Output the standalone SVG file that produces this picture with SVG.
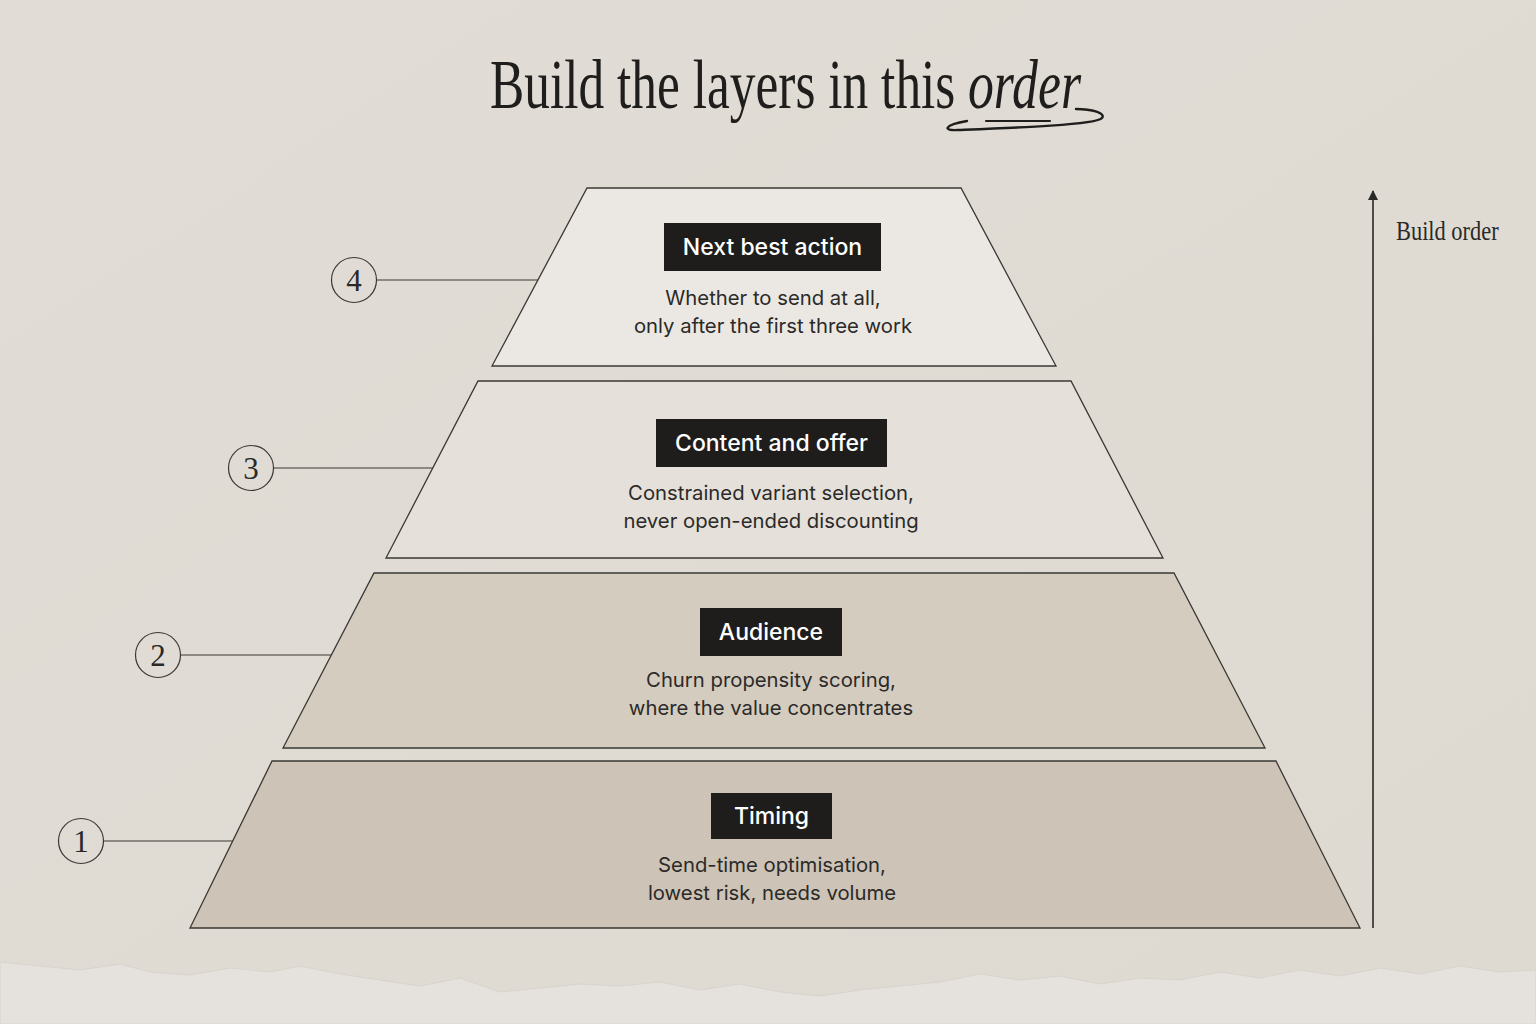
<svg xmlns="http://www.w3.org/2000/svg" width="1536" height="1024" viewBox="0 0 1536 1024">
<defs>
<style>
.layer{stroke:#3a3834;stroke-width:1.3;stroke-linejoin:miter}
.box{fill:#1e1d1c}
.lbl{font-family:Inter,"Liberation Sans",sans-serif;font-size:23px;font-weight:500;fill:#ffffff;text-anchor:middle}
.sub{font-family:Inter,"Liberation Sans",sans-serif;font-size:20.3px;fill:#2b2a28;text-anchor:middle}
.num{font-family:"Liberation Serif",serif;font-size:31px;fill:#2a2927;text-anchor:middle}
.ring{fill:none;stroke:#3a3834;stroke-width:1.2}
.conn{stroke:#3a3834;stroke-width:1.2;fill:none}
.ttl{font-family:"Liberation Serif",serif;font-size:69px;fill:#1f1e1c}
</style>
<marker id="ah" viewBox="0 0 10 10" refX="9" refY="5" markerWidth="10" markerHeight="10" markerUnits="userSpaceOnUse" orient="auto">
<path d="M0,0 L10,5 L0,10 Z" fill="#2a2927"/>
</marker>
<linearGradient id="bg" x1="0" y1="0" x2="1" y2="1">
<stop offset="0" stop-color="#e1ddd6"/>
<stop offset="1" stop-color="#dedad2"/>
</linearGradient>
</defs>
<rect width="1536" height="1024" fill="url(#bg)"/>
<path d="M0,962 L40,966 L80,970 L120,964 L150,972 L190,975 L230,968 L270,972 L300,966 L340,974 L380,980 L420,986 L460,978 L500,992 L540,988 L580,984 L620,986 L660,982 L700,990 L740,984 L780,992 L820,996 L860,990 L900,986 L940,982 L980,974 L1020,980 L1060,976 L1100,984 L1140,978 L1180,980 L1220,972 L1260,978 L1300,970 L1340,976 L1380,968 L1420,974 L1460,966 L1500,972 L1536,970 L1536,1024 L0,1024 Z" fill="#e5e2dd" stroke="#d8d4cd" stroke-width="1"/>

<g id="title">
<text class="ttl" transform="translate(490,108) scale(0.745,1)" x="0" y="0">Build the layers in this</text>
<text class="ttl" transform="translate(968,108) scale(0.75,1)" x="0" y="0" font-style="italic">order</text>
<path d="M1076,109 C1092,109 1106,113 1102,118 C1096,125 1010,128 958,130 C942,131 944,125 967,121" fill="none" stroke="#1f1e1c" stroke-width="2.4" stroke-linecap="round"/>
<path d="M986,121 L1050,121" fill="none" stroke="#1f1e1c" stroke-width="2.2" stroke-linecap="round"/>
</g>

<g id="connectors">
<line class="conn" x1="376" y1="280" x2="538" y2="280"/>
<line class="conn" x1="274" y1="468" x2="433" y2="468"/>
<line class="conn" x1="181" y1="655" x2="332" y2="655"/>
<line class="conn" x1="104" y1="841" x2="233" y2="841"/>
<line x1="1373" y1="928" x2="1373" y2="191" stroke="#2a2927" stroke-width="1.6" marker-end="url(#ah)"/>
</g>

<g id="build-order">
<text transform="translate(1396,240) scale(0.8,1)" x="0" y="0" font-family="'Liberation Serif',serif" font-size="28" fill="#2a2927">Build order</text>
</g>

<g id="layer4">
<polygon class="layer" points="587,188 961,188 1056,366 492,366" fill="#ebe8e3"/>
<rect class="box" x="664" y="223" width="217" height="48"/>
<text class="lbl" x="772.5" y="255">Next best action</text>
<text class="sub" x="773" y="305">Whether to send at all,</text>
<text class="sub" x="773" y="333">only after the first three work</text>
</g>
<g id="layer3">
<polygon class="layer" points="478,381 1071,381 1163,558 386,558" fill="#e5e1da"/>
<rect class="box" x="656" y="419" width="231" height="48"/>
<text class="lbl" x="771.5" y="451">Content and offer</text>
<text class="sub" x="771" y="500">Constrained variant selection,</text>
<text class="sub" x="771" y="528">never open-ended discounting</text>
</g>
<g id="layer2">
<polygon class="layer" points="374,573 1174,573 1265,748 283,748" fill="#d5ccc0"/>
<rect class="box" x="700" y="608" width="142" height="48"/>
<text class="lbl" x="771" y="640">Audience</text>
<text class="sub" x="771" y="687">Churn propensity scoring,</text>
<text class="sub" x="771" y="715">where the value concentrates</text>
</g>
<g id="layer1">
<polygon class="layer" points="272,761 1276,761 1360,928 190,928" fill="#cdc3b6"/>
<rect class="box" x="711" y="793" width="121" height="46"/>
<text class="lbl" x="771.5" y="824">Timing</text>
<text class="sub" x="772" y="872">Send-time optimisation,</text>
<text class="sub" x="772" y="900">lowest risk, needs volume</text>
</g>

<g id="step4"><circle class="ring" cx="354" cy="280" r="22.5"/><text class="num" x="354" y="291">4</text></g>
<g id="step3"><circle class="ring" cx="251" cy="468" r="22.5"/><text class="num" x="251" y="479">3</text></g>
<g id="step2"><circle class="ring" cx="158" cy="655" r="22.5"/><text class="num" x="158" y="666">2</text></g>
<g id="step1"><circle class="ring" cx="81" cy="841" r="22.5"/><text class="num" x="81" y="852">1</text></g>
</svg>
